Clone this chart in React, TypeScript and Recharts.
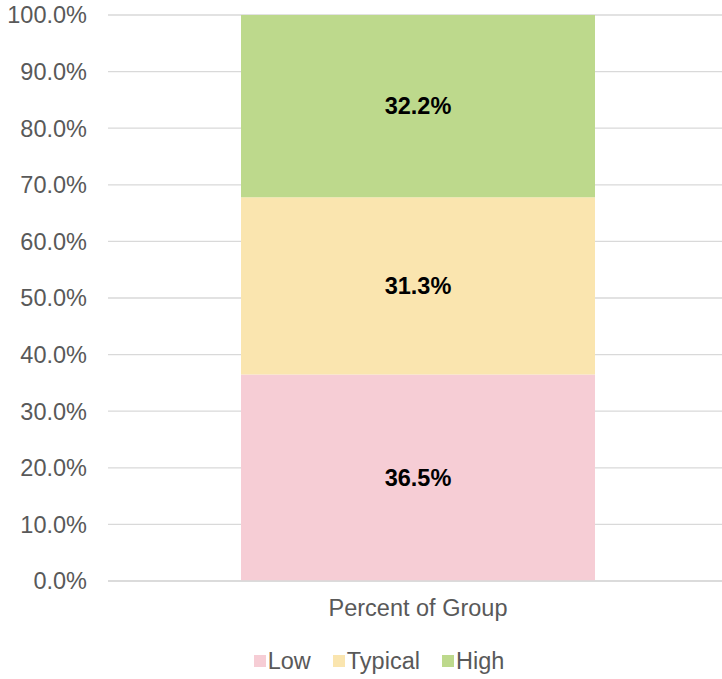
import * as React from 'react';
import { BarChart, Bar, XAxis, YAxis, CartesianGrid, Legend, LabelList } from 'recharts';

const categories = ['Percent of Group'];
const lowValues = [36.5];
const typicalValues = [31.3];
const highValues = [32.2];
const yTicks = [0, 10, 20, 30, 40, 50, 60, 70, 80, 90, 100];

const seriesInfo = [
  { key: 'low', name: 'Low', color: '#F6CDD5' },
  { key: 'typical', name: 'Typical', color: '#FAE5AF' },
  { key: 'high', name: 'High', color: '#BDD98C' },
];

const data = categories.map((c, i) => ({
  name: c,
  low: lowValues[i],
  typical: typicalValues[i],
  high: highValues[i],
}));

const pct = (v: any) => `${Number(v).toFixed(1)}%`;
const FS = 23.5;

function LegendBox() {
  return (
    <div style={{ display: 'flex', justifyContent: 'center', alignItems: 'center', height: 26, paddingLeft: 30 }}>
      {seriesInfo.map((s) => (
        <div key={s.key} style={{ display: 'flex', alignItems: 'center', margin: '0 11px' }}>
          <span style={{ width: 12, height: 12, background: s.color, display: 'inline-block', marginRight: 2 }} />
          <span style={{ fontSize: FS, color: '#595959', lineHeight: '26px' }}>{s.name}</span>
        </div>
      ))}
    </div>
  );
}

export default function App() {
  return (
    <div style={{ position: 'absolute', left: 0, top: 0, width: 722, height: 679, overflow: 'hidden', background: '#fff', fontFamily: '"Liberation Sans", Arial, sans-serif' }}>
      <BarChart width={722} height={679} data={data} margin={{ top: 15, right: -6, bottom: 5, left: 0 }}>
        <CartesianGrid vertical={false} stroke="#D9D9D9" strokeWidth={1.3} />
        <XAxis
          dataKey="name"
          height={67}
          tickLine={false}
          axisLine={{ stroke: '#D9D9D9', strokeWidth: 1.3 }}
          tick={{ fill: '#595959', fontSize: FS }}
          tickMargin={12}
        />
        <YAxis
          width={108}
          domain={[0, 100]}
          ticks={yTicks}
          interval={0}
          tickFormatter={pct}
          tickLine={false}
          axisLine={false}
          tick={{ fill: '#595959', fontSize: FS }}
          tickMargin={15}
        />
        <Legend verticalAlign="bottom" content={() => <LegendBox />} />
        {seriesInfo.map((s) => (
          <Bar key={s.key} dataKey={s.key} name={s.name} stackId="a" fill={s.color} barSize={354} isAnimationActive={false}>
            <LabelList dataKey={s.key} position="center" formatter={pct} fill="#000" fontWeight="bold" fontSize={FS} />
          </Bar>
        ))}
      </BarChart>
    </div>
  );
}
